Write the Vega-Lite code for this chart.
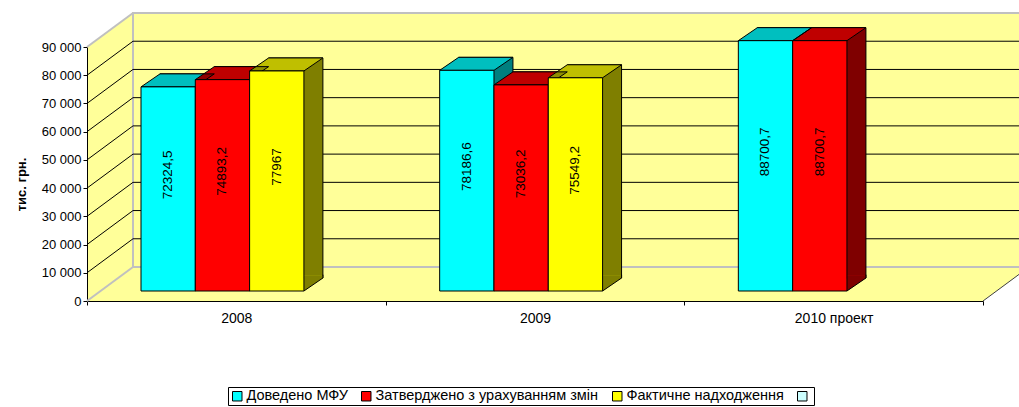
{
  "$schema": "https://vega.github.io/schema/vega-lite/v6.json",
  "width": 896,
  "height": 254,
  "autosize": "none",
  "padding": {"left": 87, "top": 47, "right": 36, "bottom": 106},
  "data": {
    "values": [
      {"year": "2008", "series": "Доведено МФУ", "value": 72324.5},
      {"year": "2008", "series": "Затверджено з урахуванням змін", "value": 74893.2},
      {"year": "2008", "series": "Фактичне надходження", "value": 77967},
      {"year": "2009", "series": "Доведено МФУ", "value": 78186.6},
      {"year": "2009", "series": "Затверджено з урахуванням змін", "value": 73036.2},
      {"year": "2009", "series": "Фактичне надходження", "value": 75549.2},
      {"year": "2010 проект", "series": "Доведено МФУ", "value": 88700.7},
      {"year": "2010 проект", "series": "Затверджено з урахуванням змін", "value": 88700.7}
    ]
  },
  "layer": [
    {
      "layer": [
        {
          "layer": [
            {
              "data": {"values": [{"g": 90000}]},
              "mark": {"type": "point", "shape": "M0,0L46,-34L46,0Z", "size": 4, "filled": true, "color": "#FFFF99", "opacity": 1, "strokeWidth": 0},
              "encoding": {
                "x": {"datum": "2008", "bandPosition": 0, "type": "nominal",
                  "scale": {"domain": ["2008", "2009", "2010 проект"], "paddingInner": 0, "paddingOuter": 0},
                  "axis": {"title": null, "labelAngle": 0, "tickBand": "extent", "domainColor": "black", "tickColor": "black", "tickSize": 4, "labelPadding": 6, "labelFontSize": 14, "labelColor": "black"}},
                "y": {"field": "g", "type": "quantitative", "scale": {"domain": [0, 90000], "nice": false},
                  "axis": {"title": "тис. грн.", "values": [0, 10000, 20000, 30000, 40000, 50000, 60000, 70000, 80000, 90000], "tickCount": 10, "format": ",d", "labelOverlap": false, "grid": false, "domainColor": "black", "tickColor": "black", "tickSize": 4, "labelPadding": 2, "labelFontSize": 13, "labelColor": "black", "titleFontSize": 13, "titleFontWeight": "bold", "titleColor": "black", "titlePadding": 13, "titleY": 137}}
              }
            },
            {
              "data": {"values": [{"g": 0}]},
              "mark": {"type": "point", "shape": "M0,0L46,-34L0,-34Z", "size": 4, "filled": true, "color": "#FFFF99", "opacity": 1, "strokeWidth": 0},
              "encoding": {
                "x": {"datum": "2010 проект", "bandPosition": 1, "type": "nominal"},
                "y": {"field": "g", "type": "quantitative"}
              }
            },
            {
              "data": {"values": [{"g": 0}]},
              "mark": {"type": "rect", "fill": "#FFFF99", "stroke": "#C0C0C0", "strokeWidth": 2, "xOffset": 46, "x2Offset": 46, "yOffset": -34, "y2Offset": -34},
              "encoding": {
                "x": {"datum": "2008", "bandPosition": 0, "type": "nominal"},
                "x2": {"datum": "2010 проект", "bandPosition": 1},
                "y": {"datum": 0, "type": "quantitative"},
                "y2": {"datum": 90000}
              }
            },
            {
              "data": {"values": [{"g": 10000}, {"g": 20000}, {"g": 30000}, {"g": 40000}, {"g": 50000}, {"g": 60000}, {"g": 70000}, {"g": 80000}]},
              "mark": {"type": "rule", "color": "black", "strokeWidth": 1, "xOffset": 46, "x2Offset": 46, "yOffset": -34},
              "encoding": {
                "x": {"datum": "2008", "bandPosition": 0, "type": "nominal"},
                "x2": {"datum": "2010 проект", "bandPosition": 1},
                "y": {"field": "g", "type": "quantitative"}
              }
            },
            {
              "data": {"values": [{"g": 10000}, {"g": 20000}, {"g": 30000}, {"g": 40000}, {"g": 50000}, {"g": 60000}, {"g": 70000}, {"g": 80000}]},
              "mark": {"type": "point", "shape": "M0,0L46,-34", "size": 4, "filled": false, "color": "black", "opacity": 1, "strokeWidth": 1},
              "encoding": {
                "x": {"datum": "2008", "bandPosition": 0, "type": "nominal"},
                "y": {"field": "g", "type": "quantitative"}
              }
            },
            {
              "data": {"values": [{"g": 0}, {"g": 90000}]},
              "mark": {"type": "point", "shape": "M0,0L46,-34", "size": 4, "filled": false, "color": "#C0C0C0", "opacity": 1, "strokeWidth": 2},
              "encoding": {
                "x": {"datum": "2008", "bandPosition": 0, "type": "nominal"},
                "y": {"field": "g", "type": "quantitative"}
              }
            },
            {
              "data": {"values": [{"g": 0}]},
              "mark": {"type": "point", "shape": "M0,0L46,-34", "size": 4, "filled": false, "color": "#404040", "opacity": 1, "strokeWidth": 1},
              "encoding": {
                "x": {"datum": "2010 проект", "bandPosition": 1, "type": "nominal"},
                "y": {"field": "g", "type": "quantitative"}
              }
            },
            {
              "mark": {"type": "bar", "yOffset": -23, "y2Offset": -23},
              "encoding": {
                "x": {"field": "year", "type": "nominal"},
                "xOffset": {"field": "series", "type": "nominal", "scale": {"domain": ["Доведено МФУ", "Затверджено з урахуванням змін", "Фактичне надходження", " "], "paddingInner": 0, "paddingOuter": 0.75, "align": 0.896}},
                "y": {"field": "value", "type": "quantitative"},
                "color": {
                  "field": "series", "type": "nominal",
                  "scale": {"domain": ["Доведено МФУ", "Затверджено з урахуванням змін", "Фактичне надходження", " "], "range": ["#00FFFF", "#FF0000", "#FFFF00", "#CCFFFF"]},
                  "legend": {"title": null, "orient": "none", "legendX": 141, "legendY": 340, "direction": "horizontal", "symbolType": "square", "symbolSize": 90, "symbolStrokeColor": "black", "symbolStrokeWidth": 1, "symbolOpacity": 1, "labelFontSize": 14.5, "labelColor": "black", "labelLimit": 400, "labelOffset": 2, "columnPadding": 11, "strokeColor": "black", "fillColor": "white", "padding": 2}
                }
              }
            },
            {
              "mark": {"type": "bar", "yOffset": -23, "y2Offset": -23, "fill": "black", "fillOpacity": 0.5, "stroke": "black", "strokeWidth": 1},
              "encoding": {
                "x": {"field": "year", "type": "nominal"},
                "xOffset": {"field": "series", "type": "nominal"},
                "y": {"field": "value", "type": "quantitative"}
              }
            }
          ]
        },
        {
          "layer": [
            {
              "mark": {"type": "point", "shape": "M1,0L1.7,-0.479L1.7,-0.56L1,-0.56Z", "size": 2948, "filled": true, "opacity": 1, "strokeWidth": 0, "yOffset": -10},
              "encoding": {
                "x": {"field": "year", "type": "nominal"},
                "xOffset": {"field": "series", "type": "nominal", "scale": {"type": "band", "domain": ["Доведено МФУ", "Затверджено з урахуванням змін", "Фактичне надходження", " "], "paddingInner": 0, "paddingOuter": 0.75, "align": 0.663}},
                "y": {"datum": 0, "type": "quantitative"},
                "color": {"field": "series", "type": "nominal"}
              }
            },
            {
              "mark": {"type": "point", "shape": "M1,0L1.7,-0.479L1.7,-0.56L1,-0.56Z", "size": 2948, "filled": true, "color": "black", "opacity": 0.5, "strokeWidth": 0, "yOffset": -10},
              "encoding": {
                "x": {"field": "year", "type": "nominal"},
                "xOffset": {"field": "series", "type": "nominal"},
                "y": {"datum": 0, "type": "quantitative"}
              }
            },
            {
              "mark": {"type": "point", "shape": "M1,0L1.7,-0.479L1.7,-0.6", "size": 2948, "filled": false, "color": "black", "opacity": 1, "strokeWidth": 1, "yOffset": -10},
              "encoding": {
                "x": {"field": "year", "type": "nominal"},
                "xOffset": {"field": "series", "type": "nominal"},
                "y": {"datum": 0, "type": "quantitative"}
              }
            },
            {
              "mark": {"type": "point", "shape": "M-1,0L1,0L1.7,-0.479L-0.3,-0.479Z", "size": 2948, "filled": true, "opacity": 1, "strokeWidth": 0, "yOffset": -10},
              "encoding": {
                "x": {"field": "year", "type": "nominal"},
                "xOffset": {"field": "series", "type": "nominal"},
                "y": {"field": "value", "type": "quantitative"},
                "color": {"field": "series", "type": "nominal"}
              }
            },
            {
              "mark": {"type": "point", "shape": "M-1,0L1,0L1.7,-0.479L-0.3,-0.479Z", "size": 2948, "fill": "black", "fillOpacity": 0.25, "stroke": "black", "strokeWidth": 1, "strokeOpacity": 1, "opacity": 1, "yOffset": -10},
              "encoding": {
                "x": {"field": "year", "type": "nominal"},
                "xOffset": {"field": "series", "type": "nominal"},
                "y": {"field": "value", "type": "quantitative"}
              }
            },
            {
              "mark": {"type": "bar", "stroke": "black", "strokeWidth": 1, "yOffset": -10, "y2Offset": -10},
              "encoding": {
                "x": {"field": "year", "type": "nominal"},
                "xOffset": {"field": "series", "type": "nominal"},
                "y": {"field": "value", "type": "quantitative"},
                "color": {"field": "series", "type": "nominal"}
              }
            }
          ]
        }
      ],
      "resolve": {"scale": {"xOffset": "independent"}}
    },
    {
      "mark": {"type": "text", "angle": 270, "align": "center", "baseline": "middle", "fontSize": 13.5, "color": "black", "yOffset": -24},
      "encoding": {
        "x": {"field": "year", "type": "nominal"},
        "xOffset": {"field": "series", "type": "nominal", "scale": {"type": "band", "domain": ["Доведено МФУ", "Затверджено з урахуванням змін", "Фактичне надходження", " "], "paddingInner": 0, "paddingOuter": 0.75, "align": 0.663}},
        "y": {"field": "value", "type": "quantitative", "scale": {"domain": [0, 180000], "nice": false}, "axis": null},
        "text": {"field": "value", "type": "quantitative", "format": ".1~f"}
      }
    }
  ],
  "resolve": {"scale": {"y": "independent", "xOffset": "independent"}},
  "config": {
    "font": "Liberation Sans",
    "view": {"fill": "#FFFF99", "stroke": null},
    "locale": {"number": {"decimal": ",", "thousands": " ", "grouping": [3], "currency": ["", ""]}},
    "axis": {"labelFont": "Liberation Sans", "titleFont": "Liberation Sans"},
    "axisY": {"tickCount": 10},
    "legend": {"labelFont": "Liberation Sans"}
  }
}
